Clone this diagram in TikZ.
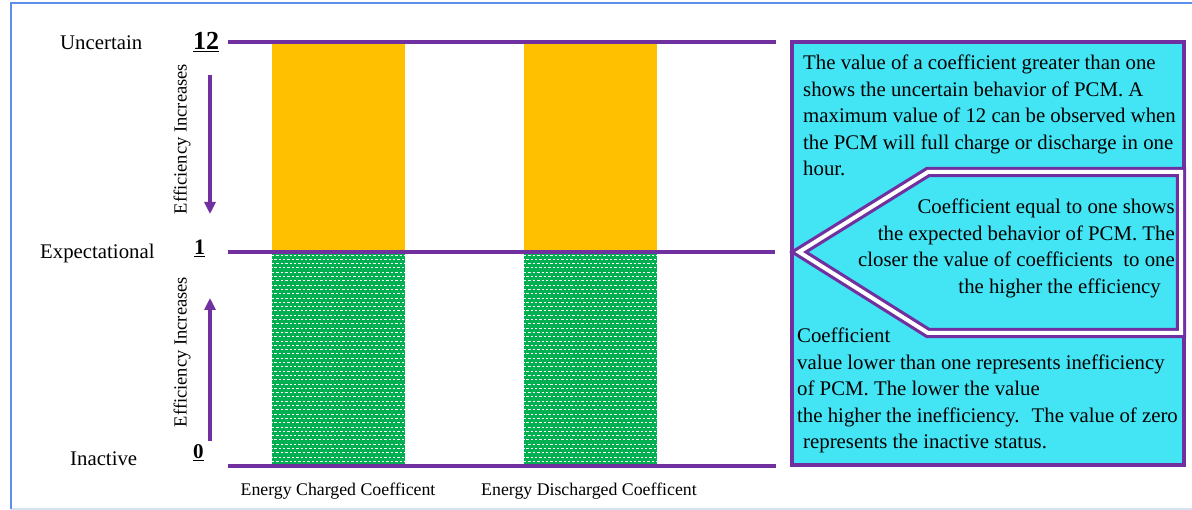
\documentclass[tikz,border=0pt]{standalone}
\usepackage{fontspec}
\setmainfont{Liberation Serif}
\usetikzlibrary{arrows.meta}

\definecolor{lvl}{HTML}{7030A0}
\definecolor{ambar}{HTML}{FFC000}
\definecolor{grn}{HTML}{00B050}
\definecolor{cyanfill}{HTML}{43E5F5}
\definecolor{framebl}{HTML}{5B8FEA}
\definecolor{framelt}{HTML}{D9E2F1}

\newcommand\setfs[2]{\fontsize{#1}{#2}\selectfont}

\tikzset{
  levelline/.style={lvl, line width=3.5pt},
  effarrow/.style={lvl, line width=3.2pt, -{Triangle[length=12pt,width=11pt]}},
  sidelabel/.style={anchor=base west, inner sep=0pt, font=\setfs{20.8}{25}},
  levelnum/.style={anchor=base west, inner sep=0pt},
  efftext/.style={rotate=90, inner sep=0pt, font=\setfs{18.5}{22}},
  barlabel/.style={anchor=base, inner sep=0pt, font=\setfs{17.8}{22}},
  notebox/.style={fill=cyanfill, draw=lvl, line width=4pt},
  notetext/.style={inner sep=0pt, font=\setfs{20.8}{26.5}},
}

\begin{document}
\begin{tikzpicture}[x=1pt, y=-1pt]
\useasboundingbox (0,0) rectangle (1192,510);

% outer frame
\draw[framelt, line width=1.2pt] (11,509) -- (1192,509);
\draw[framebl, line width=1.5pt] (11,509) -- (11,3) -- (1192,3);

% bars: upper (orange) part
\foreach \bx in {272,524} {
  \fill[ambar] (\bx,42) rectangle ++(133,210);
}
% bars: lower (dotted green) part
\foreach \bx in {272,524} {
  \fill[grn] (\bx,252) rectangle ++(133,214);
  \begin{scope}
    \clip (\bx,252) rectangle ++(133,214);
    \foreach \r in {0,...,49} {
      \pgfmathsetmacro\yy{255+\r*4.3}
      \pgfmathsetmacro\ph{mod(\r,2)*2.2}
      \draw[white, line width=0.8pt, dash pattern=on 2.4pt off 2pt, dash phase=\ph pt]
        (\bx,\yy) -- ++(133,0);
    }
  \end{scope}
}

% level lines
\coordinate (t0) at (228,42);  \coordinate (t1) at (776,42);
\coordinate (m0) at (228,252); \coordinate (m1) at (775,252);
\coordinate (b0) at (228,466); \coordinate (b1) at (776,466);
\draw[levelline] (t0) -- (t1);
\draw[levelline] (m0) -- (m1);
\draw[levelline] (b0) -- (b1);

% efficiency arrows
\coordinate (ua0) at (210,75);  \coordinate (ua1) at (210,214);
\coordinate (la0) at (210,441); \coordinate (la1) at (210,298);
\draw[effarrow] (ua0) -- (ua1);
\draw[effarrow] (la0) -- (la1);
\node[efftext] (effup) at (182,139) {Efficiency Increases};
\node[efftext] (efflo) at (182,352) {Efficiency Increases};

% level names and values
\node[sidelabel] (uncertain) at (60,50) {Uncertain};
\node[sidelabel] (expect) at (40,259) {Expectational};
\node[sidelabel] (inactive) at (70,466) {Inactive};
\node[levelnum, font=\bfseries\setfs{26}{30}] (v12) at (193,50) {\underline{12}};
\node[levelnum, font=\bfseries\setfs{22}{26}] (v1) at (194,255) {\underline{1}};
\node[levelnum, font=\bfseries\setfs{21}{25}] (v0) at (193,459) {\underline{0}};

% bar captions
\node[barlabel] (capA) at (338,496) {Energy Charged Coefficent};
\node[barlabel] (capB) at (589,496) {Energy Discharged Coefficent};

% note boxes
\path[notebox] (792,42) rectangle (1184,252);
\path[notebox] (792,252) rectangle (1184,465);
\path[fill=cyanfill, draw=lvl, line width=3.2pt, double=white, double distance=4pt]
  (799,252) -- (928,172) -- (1181,172) -- (1181,333) -- (928,333) -- cycle;

\node[notetext, anchor=north west, align=left] (noteA) at (803,55)
  {The value of a coefficient greater than one\\
   shows the uncertain behavior of PCM. A\\
   maximum value of 12 can be observed when\\
   the PCM will full charge or discharge in one\\
   hour.};
\node[notetext, anchor=north east, align=right] (noteB) at (1175,199)
  {Coefficient equal to one shows\\
   the expected behavior of PCM. The\\
   closer the value of coefficients~ to one\\
   the higher the efficiency\hspace*{14pt}};
\node[notetext, anchor=north west, align=left] (noteC) at (797,328)
  {Coefficient\\
   value lower than one represents inefficiency\\
   of PCM. The lower the value\\
   the higher the inefficiency.~ The value of zero\\
   \hspace*{6pt}represents the inactive status.};
\end{tikzpicture}
\end{document}
